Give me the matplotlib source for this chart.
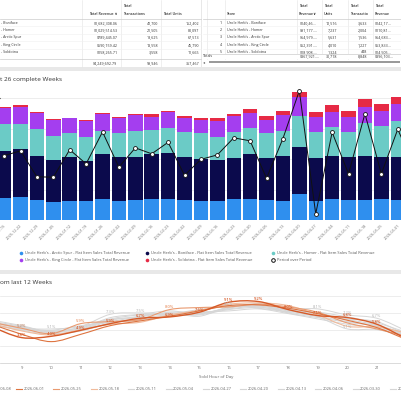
import numpy as np
import matplotlib
matplotlib.use("Agg")
import matplotlib.pyplot as plt
from matplotlib.path import Path
from matplotlib.patches import PathPatch, Rectangle

plt.rcParams['font.family'] = ['Open Sans', 'DejaVu Sans']

W, H = 402, 400

# ---------------- top tables ----------------
left_stores = ["- Boniface", "- Homer", "- Arctic Spur", "- King Circle", "- Soldotna"]
left_revenue = ["$1,682,308.06", "$1,029,514.53", "$789,445.07", "$590,159.42", "$158,265.71"]
left_transactions = ["42,700", "21,505", "18,625", "13,558", "3,558"]
left_units = ["152,402", "80,097", "67,513", "45,790", "11,665"]
left_totals = ["$4,249,692.79", "99,946", "357,467"]

right_stores = ["Uncle Herb's - Boniface", "Uncle Herb's - Homer", "Uncle Herb's - Arctic Spur",
                "Uncle Herb's - King Circle", "Uncle Herb's - Soldotna"]
right_rev_a = ["$140,46...", "$91,177....", "$64,979....", "$52,391....", "$18,908...."]
right_units = ["12,516", "7,237", "5,631", "4,010", "1,324"]
right_trans = ["3,633", "2,004", "1,536", "1,227", "448"]
right_rev_b = ["$142,17...", "$110,81...", "$64,683...", "$53,833...", "$14,505..."]
right_totals = ["$367,921....", "30,718", "8,848", "$396,103..."]

# ---------------- weekly revenue ($k) ----------------
weeks = ["2025-12-15", "2025-12-22", "2025-12-29", "2026-01-05", "2026-01-12", "2026-01-19",
         "2026-01-26", "2026-02-02", "2026-02-09", "2026-02-16", "2026-02-23", "2026-03-02",
         "2026-03-09", "2026-03-16", "2026-03-23", "2026-03-30", "2026-04-06", "2026-04-13",
         "2026-04-20", "2026-04-27", "2026-05-04", "2026-05-11", "2026-05-18", "2026-05-25",
         "2026-06-01", "2026-06-08"]
arctic = [71, 74, 66, 59, 63, 61, 68, 63, 66, 68, 68, 66, 63, 63, 69, 68, 66, 63, 85, 63, 68, 66, 66, 68, 66, 66]
boniface = [155, 158, 144, 138, 142, 132, 149, 142, 142, 149, 151, 142, 136, 133, 135, 149, 137, 147, 155, 141,
            142, 139, 144, 140, 142, 138]
homer = [88, 82, 88, 79, 79, 80, 76, 79, 84, 79, 84, 79, 85, 76, 83, 84, 82, 83, 101, 85, 96, 85, 107, 101, 117, 105]
king = [52, 57, 52, 52, 49, 51, 55, 50, 51, 42, 51, 46, 44, 52, 53, 51, 44, 51, 61, 49, 49, 49, 52, 47, 56, 49]
soldotna = [4, 5, 3, 3, 3, 5, 2, 4, 4, 11, 5, 7, 7, 9, 9, 13, 13, 14, 18, 15, 22, 19, 28, 24, 24, 23]
pop = [-0.1, 1.2, -5.8, -5.9, 1.5, -2.3, 6.3, -3.2, 2.0, 0.4, 3.5, -5.4, -1.1, 0.1, 4.7, 3.9, -6.2, 4.5,
       17.4, -15.8, 6.2, -5.0, 11.2, -5.0, 7.0, -3.0]

series_names = ["Uncle Herb's - Arctic Spur - Flat Item Sales Total Revenue",
                "Uncle Herb's - Boniface - Flat Item Sales Total Revenue",
                "Uncle Herb's - Homer - Flat Item Sales Total Revenue",
                "Uncle Herb's - King Circle - Flat Item Sales Total Revenue",
                "Uncle Herb's - Soldotna - Flat Item Sales Total Revenue"]
series_colors = ["#2F8FEE", "#0B0A4C", "#6BCBC6", "#A43EEF", "#E62A45"]

# ---------------- hourly share (%) ----------------
hours = list(range(8, 23))
share_0608 = [5.4, 3.8, 4.0, 4.9, 5.9, 6.7, 6.9, 7.6, 9.1, 9.2, 8.0, 7.1, 6.8, 5.8, 3.6]
share_0601 = [5.8, 4.3, 3.2, 4.3, 5.6, 6.3, 7.0, 7.8, 8.6, 8.7, 8.2, 7.4, 6.4, 5.3, 3.5]
share_0525 = [6.1, 5.2, 4.4, 5.9, 6.2, 6.5, 8.0, 8.3, 8.4, 8.8, 8.4, 7.6, 6.0, 5.1, 4.0]
share_0518 = [5.9, 4.8, 4.2, 5.0, 5.8, 6.1, 7.2, 7.9, 8.8, 9.0, 8.6, 7.2, 5.5, 5.4, 4.5]
share_0511 = [6.0, 5.2, 5.1, 5.5, 7.3, 7.5, 7.4, 8.0, 8.5, 8.6, 8.1, 8.1, 7.2, 6.7, 4.8]
share_0504 = [6.4, 5.6, 4.6, 5.2, 6.8, 7.3, 7.8, 7.4, 8.2, 8.9, 8.0, 7.5, 6.6, 6.2, 4.2]
share_0427 = [5.7, 4.9, 4.3, 5.0, 6.5, 6.8, 7.2, 7.2, 8.0, 8.3, 7.8, 6.9, 5.1, 5.0, 3.9]
share_0420 = [6.1, 5.4, 4.8, 5.3, 6.4, 7.0, 7.5, 7.0, 8.4, 8.4, 7.6, 7.0, 6.2, 5.6, 4.1]
share_0413 = [5.8, 5.0, 4.9, 5.6, 6.1, 6.6, 7.0, 7.6, 7.8, 8.1, 7.4, 6.6, 5.8, 5.2, 4.4]
share_0406 = [6.2, 5.5, 4.5, 5.4, 6.6, 7.2, 7.3, 7.8, 8.6, 8.2, 7.7, 7.6, 6.9, 6.0, 4.6]
share_0330 = [6.0, 5.3, 4.7, 5.1, 6.2, 6.9, 7.6, 7.5, 8.1, 8.5, 7.9, 7.3, 6.5, 5.7, 4.3]
share_0323 = [5.6, 5.1, 4.4, 4.8, 6.0, 6.4, 7.1, 7.3, 8.3, 8.7, 7.5, 6.8, 6.1, 5.5, 4.0]

line_weeks = ["-06-08", "2026-06-01", "2026-05-25", "2026-05-18", "2026-05-11", "2026-05-04",
              "2026-04-27", "2026-04-20", "2026-04-13", "2026-04-06", "2026-03-30", "20"]
line_values = [share_0608, share_0601, share_0525, share_0518, share_0511, share_0504,
               share_0427, share_0420, share_0413, share_0406, share_0330, share_0323]
line_colors = ["#D65A28", "#DE7440", "#E99A70", "#F0BB9C"] + ["#D6D6D6"] * 8
# hours with a value label, per series index
label_hours = {0: list(range(9, 22)), 2: [9, 11, 14], 4: [9, 10, 12, 13, 16, 19, 20, 21], 6: [20]}

fig = plt.figure(figsize=(4.02, 4.0), dpi=100)
fig.patch.set_facecolor('white')


def fr(x0, y0, x1, y1):
    return [x0 / W, 1 - y1 / H, (x1 - x0) / W, (y1 - y0) / H]


ov = fig.add_axes([0, 0, 1, 1], zorder=0)
ov.set_xlim(0, W)
ov.set_ylim(H, 0)
ov.axis('off')

band = '#e8e8e8'
ov.add_patch(Rectangle((0, 67), W, 4, color=band, lw=0))
ov.add_patch(Rectangle((0, 270), W, 4, color=band, lw=0))
ov.add_patch(Rectangle((201, 0), 1.5, 67, color=band, lw=0))

tc = '#333333'
fs = 2.6
row_y = [22.7, 30, 37.3, 45, 52.3]
grid_c = '#e4e4e4'

# left table
for xv in [82, 120.7, 161]:
    ov.plot([xv, xv], [0, 67], color=grid_c, lw=0.4)
ov.plot([0, 201], [19, 19], color='#cccccc', lw=0.5)
for yv in [26.4, 33.7, 41.1, 48.7]:
    ov.plot([0, 201], [yv, yv], color='#efefef', lw=0.4)
ov.plot([0, 201], [59.3, 59.3], color='#cccccc', lw=0.5)
ov.text(118, 14, "Total Revenue \u2228", ha='right', va='center', fontsize=fs, color=tc, weight='semibold')
ov.text(123, 6, "Total", ha='left', va='center', fontsize=fs, color=tc, weight='semibold')
ov.text(123, 14, "Transactions", ha='left', va='center', fontsize=fs, color=tc, weight='semibold')
ov.text(163, 14, "Total Units", ha='left', va='center', fontsize=fs, color=tc, weight='semibold')
for i, y in enumerate(row_y):
    ov.text(1.5, y, left_stores[i], ha='left', va='center', fontsize=fs, color=tc)
    ov.text(117.5, y, left_revenue[i], ha='right', va='center', fontsize=fs, color=tc)
    ov.text(158, y, left_transactions[i], ha='right', va='center', fontsize=fs, color=tc)
    ov.text(199.5, y, left_units[i], ha='right', va='center', fontsize=fs, color=tc)
ov.text(117.5, 62.7, left_totals[0], ha='right', va='center', fontsize=fs, color=tc)
ov.text(158, 62.7, left_totals[1], ha='right', va='center', fontsize=fs, color=tc)
ov.text(199.5, 62.7, left_totals[2], ha='right', va='center', fontsize=fs, color=tc)

# right table
for xv in [207, 225, 297, 322, 348, 373]:
    ov.plot([xv, xv], [0, 59], color=grid_c, lw=0.4)
ov.plot([203, W], [19, 19], color='#cccccc', lw=0.5)
for yv in [26.4, 33.7, 41.1, 48.7]:
    ov.plot([203, W], [yv, yv], color='#efefef', lw=0.4)
ov.text(227, 14, "Store", ha='left', va='center', fontsize=fs, color=tc, weight='semibold')
for xh, l2 in zip([299, 324, 350, 375], ["Revenue\u2228", "Units", "Transactio", "Revenue"]):
    ov.text(xh, 6, "Total", ha='left', va='center', fontsize=fs, color=tc, weight='semibold')
    ov.text(xh, 14, l2, ha='left', va='center', fontsize=fs, color=tc, weight='semibold')
for i, y in enumerate(row_y):
    ov.text(222, y, str(i + 1), ha='right', va='center', fontsize=fs, color=tc)
    ov.text(227, y, right_stores[i], ha='left', va='center', fontsize=fs, color=tc)
    ov.text(299.5, y, right_rev_a[i], ha='left', va='center', fontsize=fs, color=tc)
    ov.text(337, y, right_units[i], ha='right', va='center', fontsize=fs, color=tc)
    ov.text(367, y, right_trans[i], ha='right', va='center', fontsize=fs, color=tc)
    ov.text(375, y, right_rev_b[i], ha='left', va='center', fontsize=fs, color=tc)
ov.add_patch(Rectangle((203, 53.6), W - 203, 5.4, color='white', lw=0, zorder=3))
ov.plot([203, W], [53.6, 53.6], color='#cccccc', lw=0.5, zorder=4)
ov.text(202.5, 56.3, "Totals", ha='left', va='center', fontsize=fs, color=tc, zorder=4)
ov.text(299.5, 56.3, right_totals[0], ha='left', va='center', fontsize=fs, color=tc, zorder=4)
ov.text(337, 56.3, right_totals[1], ha='right', va='center', fontsize=fs, color=tc, zorder=4)
ov.text(367, 56.3, right_totals[2], ha='right', va='center', fontsize=fs, color=tc, zorder=4)
ov.text(375, 56.3, right_totals[3], ha='left', va='center', fontsize=fs, color=tc, zorder=4)
ov.add_patch(Rectangle((209, 61), 191, 1.8, color='#9a9a9a', lw=0, zorder=4))
ov.text(204, 62, "\u25c2", ha='center', va='center', fontsize=3, color='#666666', zorder=4)

# titles (left part of both titles lies outside the crop)
ov.text(0.5, 79, "t 26 complete Weeks", ha='left', va='center', fontsize=4.6, color=tc)
ov.text(0.5, 283, "om last 12 Weeks", ha='left', va='center', fontsize=4.6, color=tc)

# ---------------- bar chart ----------------
axb = fig.add_axes(fr(0, 86, W, 220), zorder=2)
axb.set_facecolor('none')
x = np.arange(len(weeks))
bottom = np.zeros(len(weeks))
for vals, col in zip([arctic, boniface, homer, king, soldotna], series_colors):
    axb.bar(x, vals, bottom=bottom, width=0.88, color=col, linewidth=0)
    bottom += np.array(vals)
axb.set_xlim(-0.25, 24.26)
axb.set_ylim(0, 439.5)
axb.set_yticks([100, 200, 300, 400])
axb.yaxis.grid(True, color='#e6e6e6', lw=0.5)
axb.set_axisbelow(True)
axb.tick_params(axis='y', left=False, labelleft=False)
for s in axb.spines.values():
    s.set_visible(False)
axb.set_xticks(x[:25])
axb.set_xticklabels(weeks[:25], rotation=45, ha='right', rotation_mode='anchor', fontsize=2.8, color='#707070')
axb.tick_params(axis='x', length=0, pad=2.5)

ax2 = axb.twinx()
ax2.set_ylim(-17.44, 18.67)
ax2.plot(x, pop, color='#111111', lw=0.7, marker='o', ms=2.8, mfc='white', mec='#111111', mew=0.6)
ax2.set_axis_off()

# bar legend
leg_x = [21, 147, 273]
leg_y = [252.7, 260]
for k, name in enumerate(series_names):
    lx, ly = leg_x[k % 3], leg_y[k // 3]
    ov.plot(lx, ly, 'o', ms=2.6, color=series_colors[k], mew=0)
    ov.text(lx + 4.5, ly, name, ha='left', va='center', fontsize=2.9, color='#555555')
ov.plot(leg_x[2], leg_y[1], 'o', ms=2.6, mfc='white', mec='#111111', mew=0.7)
ov.text(leg_x[2] + 4.5, leg_y[1], "Period over Period", ha='left', va='center', fontsize=2.9, color='#555555')

# ---------------- hourly line chart ----------------
axl = fig.add_axes(fr(0, 290, W, 363), zorder=2)
axl.set_facecolor('none')
axl.set_xlim(8.267, 21.848)
axl.set_ylim(0, 10.93)
axl.set_yticks([2.5, 5, 7.5, 10])
axl.yaxis.grid(True, color='#e6e6e6', lw=0.5)
axl.set_axisbelow(True)
axl.tick_params(axis='y', left=False, labelleft=False)
for s in ['top', 'left', 'right']:
    axl.spines[s].set_visible(False)
axl.spines['bottom'].set_color('#cccccc')
axl.spines['bottom'].set_linewidth(0.5)
axl.set_xticks(list(range(9, 22)))
axl.set_xticklabels([str(h) for h in range(9, 22)], fontsize=3.0, color='#707070')
axl.tick_params(axis='x', length=0, pad=2.5)


def smooth_path(xs, ys):
    pts = np.column_stack([xs, ys]).astype(float)
    verts = [pts[0]]
    codes = [Path.MOVETO]
    n = len(pts)
    for i in range(n - 1):
        p0 = pts[max(i - 1, 0)]
        p1 = pts[i]
        p2 = pts[i + 1]
        p3 = pts[min(i + 2, n - 1)]
        verts += [p1 + (p2 - p0) / 6.0, p2 - (p3 - p1) / 6.0, p2]
        codes += [Path.CURVE4] * 3
    return Path(verts, codes)


for i in range(len(line_values) - 1, -1, -1):
    lw = 1.0 if i == 0 else (0.8 if i < 4 else 0.7)
    axl.add_patch(PathPatch(smooth_path(hours, line_values[i]), fill=False,
                            edgecolor=line_colors[i], lw=lw, zorder=3))
for i, hs in label_hours.items():
    col = line_colors[i] if i < 4 else '#b0b0b0'
    for h in hs:
        v = line_values[i][hours.index(h)]
        axl.text(h, v + 0.35, "%.1f%%" % v, ha='center', va='center', fontsize=3.0, color=col,
                 weight='semibold' if i < 4 else 'normal', zorder=5)

ov.text(199, 377, "Sold Hour of Day", ha='left', va='center', fontsize=3.2, color='#666666')

for i, wk in enumerate(line_weeks):
    lx = 16 + 37.4 * (i - 1)
    if i == 0:
        ov.text(0.3, 389, wk, ha='left', va='center', fontsize=2.9, color='#666666')
        continue
    ov.plot([lx, lx + 6], [389, 389], color=line_colors[i], lw=0.8)
    ov.text(lx + 7.5, 389, wk, ha='left', va='center', fontsize=2.9, color='#666666')

fig.savefig("out.png", dpi=100, facecolor='white')
